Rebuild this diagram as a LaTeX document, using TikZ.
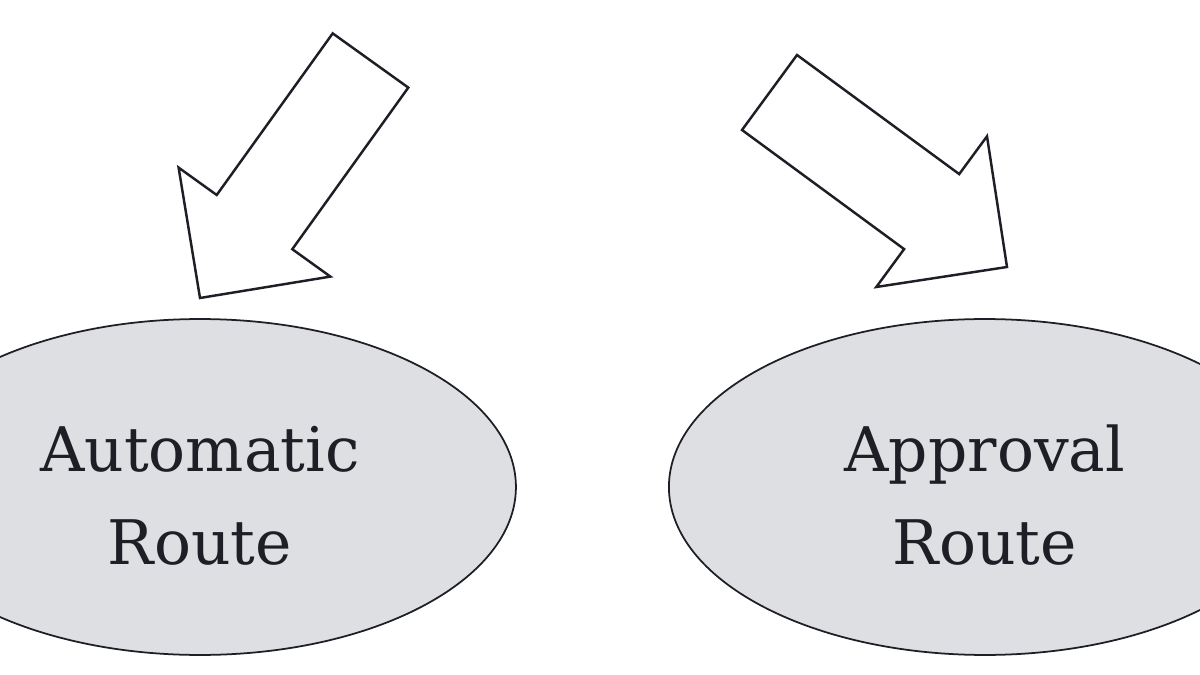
\documentclass[tikz,border=0pt]{standalone}
\usepackage{fontspec}
\setmainfont{DejaVu Serif}
\usepackage{tikz}
\usetikzlibrary{shapes.geometric}
\definecolor{routegray}{RGB}{221,223,226}
\definecolor{inkgray}{RGB}{30,30,38}

\begin{document}
\begin{tikzpicture}[x=0.02cm, y=-0.02cm, node distance={15.7cm}, thick, route/.style = {draw=inkgray, line width=1pt, ellipse, fill=routegray, minimum width=12.64cm, minimum height=6.72cm, inner sep=0pt, align=center, text=inkgray, font=\fontsize{35}{52.9}\selectfont}, blockarrow/.style = {draw=inkgray, line width=1.4pt, line join=miter}]
      \useasboundingbox (0,0) rectangle (1200,675);
      \clip (0,0) rectangle (1200,675);
      \node[route] (r_1) at (200,487) {\rule{0pt}{1.26cm}Automatic\\Route};
      \node[route] (r_2) [right of=r_1] {\rule{0pt}{1.26cm}Approval\\Route};

      % arrow into the automatic route
      \draw[blockarrow] (332.7,33.4) -- (408.3,87.6) -- (292.3,249.2) -- (330.4,276.6) -- (200,298) -- (178.6,167.6) -- (216.7,195.0) -- cycle;
      % arrow into the approval route
      \draw[blockarrow] (797.0,55.0) -- (959.2,174.1) -- (987.0,136.3) -- (1007,267) -- (876.3,287.0) -- (904.1,249.1) -- (742.0,130.0) -- cycle;
    \end{tikzpicture}
\end{document}
